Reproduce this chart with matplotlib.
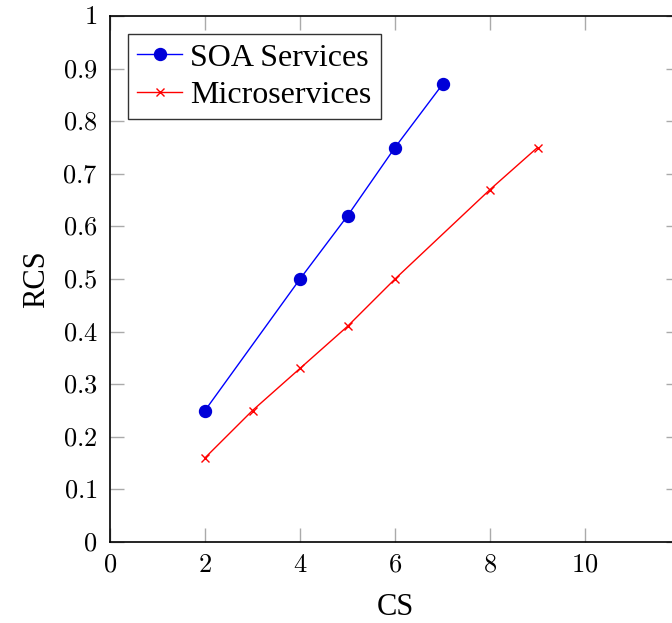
import matplotlib
matplotlib.use("Agg")
import matplotlib.pyplot as plt
from matplotlib.ticker import FuncFormatter

# RCS against CS for the two architectures
soa_cs = [2, 4, 5, 6, 7]
soa_rcs = [0.25, 0.5, 0.62, 0.75, 0.87]
micro_cs = [2, 3, 4, 5, 6, 8, 9]
micro_rcs = [0.16, 0.25, 0.33, 0.41, 0.5, 0.67, 0.75]

x_ticks = [0, 2, 4, 6, 8, 10]
y_ticks = [0, 0.1, 0.2, 0.3, 0.4, 0.5, 0.6, 0.7, 0.8, 0.9, 1]

plt.rcParams['font.family'] = ['Liberation Serif', 'DejaVu Serif']
plt.rcParams['mathtext.fontset'] = 'cm'

fig = plt.figure(figsize=(6.72, 6.23), dpi=100)
ax = fig.add_axes([110 / 672, 81 / 623, 570 / 672, 526 / 623])

ax.plot(soa_cs, soa_rcs, color='blue', linewidth=1, marker='o', markersize=8.6,
        markerfacecolor='#0000d8', markeredgecolor='#0000d8', label='SOA Services')
ax.plot(micro_cs, micro_rcs, color='red', linewidth=1, marker='x', markersize=6,
        markeredgewidth=1, label='Microservices')

ax.set_xlim(0, 12)
ax.set_ylim(0, 1)
ax.set_xticks(x_ticks)
ax.set_yticks(y_ticks)
ax.xaxis.set_major_formatter(FuncFormatter(lambda v, p: '$%g$' % v))
ax.yaxis.set_major_formatter(FuncFormatter(lambda v, p: '$%g$' % v))
ax.tick_params(direction='in', length=10, width=1, color='#aaaaaa',
               labelsize=19, top=True, right=True, pad=9)

for s in ax.spines.values():
    s.set_linewidth(1.2)

ax.set_xlabel('CS', fontsize=22, labelpad=12)
ax.set_ylabel('RCS', fontsize=22, labelpad=8)

leg = ax.legend(loc='upper left', fontsize=23, frameon=True, fancybox=False,
                edgecolor='black', handlelength=1.4, handletextpad=0.25,
                borderpad=0.3, labelspacing=0.25, borderaxespad=0.55)
leg.get_frame().set_linewidth(1)

fig.savefig('out.png', dpi=100)
